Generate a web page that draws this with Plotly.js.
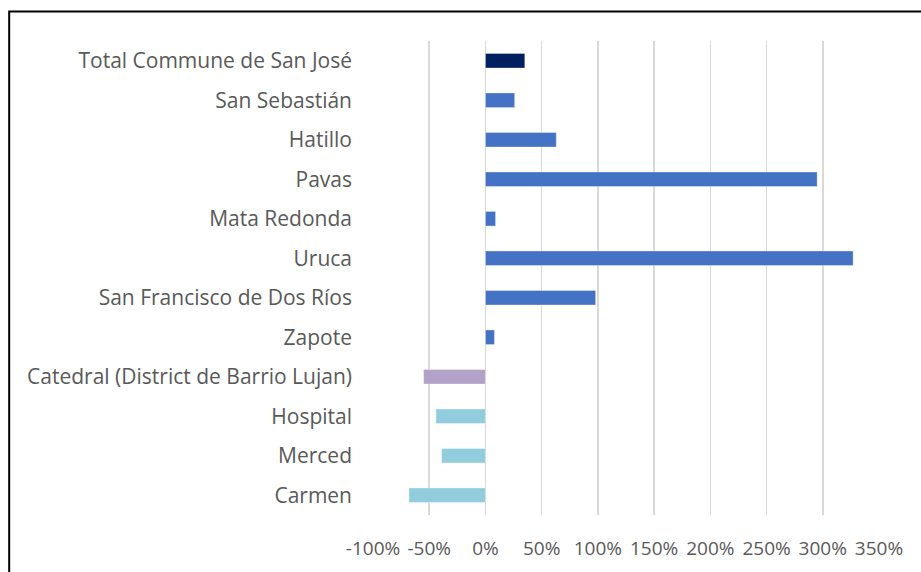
<!DOCTYPE html>
<html>
<head>
<meta charset="utf-8">
<script src="https://cdn.plot.ly/plotly-3.0.1.min.js"></script>
<style>
html,body{margin:0;padding:0;background:#fff;}
#chart{width:921px;height:572px;}
</style>
</head>
<body>
<div id="chart"></div>
<script>
var categories = [
  "Total Commune de San José",
  "San Sebastián",
  "Hatillo",
  "Pavas",
  "Mata Redonda",
  "Uruca",
  "San Francisco de Dos Ríos",
  "Zapote",
  "Catedral (District de Barrio Lujan)",
  "Hospital",
  "Merced",
  "Carmen"
];
var values = [0.35, 0.26, 0.63, 2.95, 0.09, 3.27, 0.98, 0.08, -0.55, -0.44, -0.39, -0.68];
var barColors = ["#002060", "#4472C4", "#4472C4", "#4472C4", "#4472C4", "#4472C4", "#4472C4", "#4472C4", "#B3A2C7", "#92CDDD", "#92CDDD", "#92CDDD"];
var tickVals = [-1, -0.5, 0, 0.5, 1, 1.5, 2, 2.5, 3, 3.5];
var tickText = ["-100%", "-50%", "0%", "50%", "100%", "150%", "200%", "250%", "300%", "350%"];

var font = "Open Sans, Liberation Sans, sans-serif";

var data = [{
  type: "bar",
  orientation: "h",
  y: categories,
  x: values,
  width: 0.37,
  marker: {color: barColors, line: {color: "rgba(255,255,255,0.6)", width: 0.6}},
  hoverinfo: "none"
}];

var layout = {
  width: 921,
  height: 572,
  margin: {l: 373, r: 42, t: 41, b: 57},
  paper_bgcolor: "#ffffff",
  plot_bgcolor: "#ffffff",
  showlegend: false,
  font: {family: font, size: 20, color: "#595959"},
  xaxis: {
    range: [-1, 3.5],
    tickvals: tickVals,
    ticktext: tickText,
    showgrid: true,
    gridcolor: "#D9D9D9",
    gridwidth: 1.5,
    zeroline: false,
    showline: false,
    ticks: "",
    ticklabelstandoff: 20,
    tickfont: {family: font, size: 19, color: "#595959"},
    fixedrange: true
  },
  yaxis: {
    autorange: "reversed",
    showgrid: false,
    zeroline: false,
    showline: false,
    ticks: "",
    ticklabelstandoff: 20,
    tickfont: {family: font, size: 21, color: "#595959"},
    fixedrange: true
  },
  shapes: [{
    type: "rect",
    xref: "paper", yref: "paper",
    x0: -0.719, x1: 2, y0: -1, y1: 1.062,
    line: {color: "#000000", width: 2},
    fillcolor: "rgba(0,0,0,0)",
    layer: "below"
  }]
};

Plotly.newPlot("chart", data, layout, {displayModeBar: false, staticPlot: true});
</script>
</body>
</html>
